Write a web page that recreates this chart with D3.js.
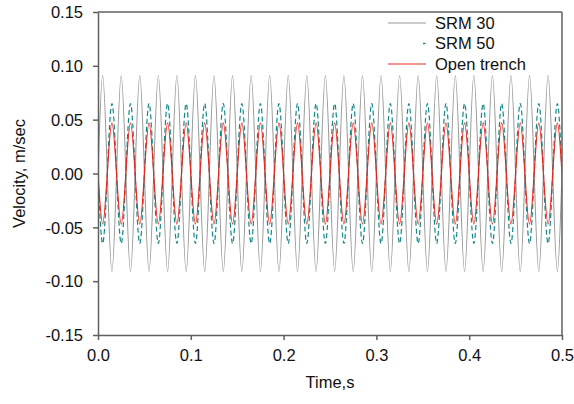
<!DOCTYPE html>
<html>
<head>
<meta charset="utf-8">
<script src="https://cdn.jsdelivr.net/npm/d3@7"></script>
<style>
  body { margin: 0; background: #fff; }
  svg { font-family: Arial, "Liberation Sans", sans-serif; }
  .axis path, .axis line { stroke: #606060; stroke-width: 1.5; }
  .axis text { font-size: 16.5px; fill: #111; }
</style>
</head>
<body>
<svg width="574" height="404"></svg>
<script>
// sample times (s) - extremes and zero crossings of each half cycle
const time = [
  0, 0.005, 0.01, 0.015, 0.02, 0.025, 0.03, 0.035, 0.04, 0.045,
  0.05, 0.055, 0.06, 0.065, 0.07, 0.075, 0.08, 0.085, 0.09, 0.095,
  0.1, 0.105, 0.11, 0.115, 0.12, 0.125, 0.13, 0.135, 0.14, 0.145,
  0.15, 0.155, 0.16, 0.165, 0.17, 0.175, 0.18, 0.185, 0.19, 0.195,
  0.2, 0.205, 0.21, 0.215, 0.22, 0.225, 0.23, 0.235, 0.24, 0.245,
  0.25, 0.255, 0.26, 0.265, 0.27, 0.275, 0.28, 0.285, 0.29, 0.295,
  0.3, 0.305, 0.31, 0.315, 0.32, 0.325, 0.33, 0.335, 0.34, 0.345,
  0.35, 0.355, 0.36, 0.365, 0.37, 0.375, 0.38, 0.385, 0.39, 0.395,
  0.4, 0.405, 0.41, 0.415, 0.42, 0.425, 0.43, 0.435, 0.44, 0.445,
  0.45, 0.455, 0.46, 0.465, 0.47, 0.475, 0.48, 0.485, 0.49, 0.495,
  0.5
]

// velocity (m/sec) at the sample times
const srm30 = [
  0, 0.091, 0, -0.091, 0, 0.091, 0, -0.091, 0, 0.091, 0, -0.091, 0, 0.091, 0, -0.091, 0, 0.091, 0, -0.091,
  0, 0.091, 0, -0.091, 0, 0.091, 0, -0.091, 0, 0.091, 0, -0.091, 0, 0.091, 0, -0.091, 0, 0.091, 0, -0.091,
  0, 0.091, 0, -0.091, 0, 0.091, 0, -0.091, 0, 0.091, 0, -0.091, 0, 0.091, 0, -0.091, 0, 0.091, 0, -0.091,
  0, 0.091, 0, -0.091, 0, 0.091, 0, -0.091, 0, 0.091, 0, -0.091, 0, 0.091, 0, -0.091, 0, 0.091, 0, -0.091,
  0, 0.091, 0, -0.091, 0, 0.091, 0, -0.091, 0, 0.091, 0, -0.091, 0, 0.091, 0, -0.091, 0, 0.091, 0, -0.091,
  0
]

const srm50 = [
  0, -0.065, 0, 0.065, 0, -0.065, 0, 0.065, 0, -0.065, 0, 0.065, 0, -0.065, 0, 0.065, 0, -0.065, 0, 0.065,
  0, -0.065, 0, 0.065, 0, -0.065, 0, 0.065, 0, -0.065, 0, 0.065, 0, -0.065, 0, 0.065, 0, -0.065, 0, 0.065,
  0, -0.065, 0, 0.065, 0, -0.065, 0, 0.065, 0, -0.065, 0, 0.065, 0, -0.065, 0, 0.065, 0, -0.065, 0, 0.065,
  0, -0.065, 0, 0.065, 0, -0.065, 0, 0.065, 0, -0.065, 0, 0.065, 0, -0.065, 0, 0.065, 0, -0.065, 0, 0.065,
  0, -0.065, 0, 0.065, 0, -0.065, 0, 0.065, 0, -0.065, 0, 0.065, 0, -0.065, 0, 0.065, 0, -0.065, 0, 0.065,
  0
]

const openTrench = [
  0, -0.047, 0, 0.047, 0, -0.047, 0, 0.047, 0, -0.047, 0, 0.047, 0, -0.047, 0, 0.047, 0, -0.047, 0, 0.047,
  0, -0.047, 0, 0.047, 0, -0.047, 0, 0.047, 0, -0.047, 0, 0.047, 0, -0.047, 0, 0.047, 0, -0.047, 0, 0.047,
  0, -0.047, 0, 0.047, 0, -0.047, 0, 0.047, 0, -0.047, 0, 0.047, 0, -0.047, 0, 0.047, 0, -0.047, 0, 0.047,
  0, -0.047, 0, 0.047, 0, -0.047, 0, 0.047, 0, -0.047, 0, 0.047, 0, -0.047, 0, 0.047, 0, -0.047, 0, 0.047,
  0, -0.047, 0, 0.047, 0, -0.047, 0, 0.047, 0, -0.047, 0, 0.047, 0, -0.047, 0, 0.047, 0, -0.047, 0, 0.047,
  0
]

const seriesNames = ["SRM 30", "SRM 50", "Open trench"]

const xTicks = [0, 0.1, 0.2, 0.3, 0.4, 0.5]
const xTickLabels = ["0.0", "0.1", "0.2", "0.3", "0.4", "0.5"]
const yTicks = [-0.15, -0.10, -0.05, 0, 0.05, 0.10, 0.15]
const yTickLabels = ["-0.15", "-0.10", "-0.05", "0.00", "0.05", "0.10", "0.15"]

const margin = {top: 12, right: 12, bottom: 69, left: 98}
const svg = d3.select("svg")
const width = +svg.attr("width") - margin.left - margin.right
const height = +svg.attr("height") - margin.top - margin.bottom

const g = svg.append("g")
  .attr("transform", "translate(" + margin.left + "," + margin.top + ")")

const xScale = d3.scaleLinear().domain([0, 0.5]).range([0, width])
const yScale = d3.scaleLinear().domain([-0.15, 0.15]).range([height, 0])

g.append("defs").append("clipPath").attr("id", "plot-clip")
  .append("rect").attr("width", width).attr("height", height)

const styles = [
  {data: srm30, color: "#9a9a9a", dash: null, width: 1.1},
  {data: srm50, color: "#12898a", dash: "5,3", width: 1.2},
  {data: openTrench, color: "#e8281e", dash: null, width: 1.2}
]

const line = d3.line()
  .x((d, i) => xScale(time[i]))
  .y(d => yScale(d))
  .curve(d3.curveNatural)

const lines = g.append("g").attr("clip-path", "url(#plot-clip)")
styles.forEach(s => {
  lines.append("path")
    .datum(s.data)
    .attr("fill", "none")
    .attr("stroke", s.color)
    .attr("stroke-width", s.width)
    .attr("stroke-dasharray", s.dash)
    .attr("d", line)
})

// axes
g.append("g")
  .attr("class", "axis")
  .attr("transform", "translate(0," + height + ")")
  .call(d3.axisBottom(xScale)
    .tickValues(xTicks)
    .tickFormat((d, i) => xTickLabels[i])
    .tickSizeInner(5).tickSizeOuter(0).tickPadding(9))

g.append("g")
  .attr("class", "axis")
  .call(d3.axisLeft(yScale)
    .tickValues(yTicks)
    .tickFormat((d, i) => yTickLabels[i])
    .tickSizeInner(5).tickSizeOuter(0).tickPadding(10))
  .selectAll("text").attr("dy", "0.35em")

// top and right frame
g.append("line").attr("x1", 0).attr("x2", width).attr("y1", 0).attr("y2", 0)
  .attr("stroke", "#606060").attr("stroke-width", 1.5)
g.append("line").attr("x1", width).attr("x2", width).attr("y1", 0).attr("y2", height)
  .attr("stroke", "#606060").attr("stroke-width", 1.5)

// axis titles
svg.append("text")
  .attr("x", margin.left + width / 2)
  .attr("y", 388)
  .attr("text-anchor", "middle")
  .attr("font-size", 16.5)
  .attr("fill", "#111")
  .text("Time,s")

svg.append("text")
  .attr("transform", "translate(25," + (margin.top + height / 2) + ") rotate(-90)")
  .attr("text-anchor", "middle")
  .attr("font-size", 16.5)
  .attr("fill", "#111")
  .text("Velocity, m/sec")

// legend
const legend = svg.append("g").attr("transform", "translate(388,23)")
seriesNames.forEach((name, i) => {
  const row = legend.append("g").attr("transform", "translate(0," + (i * 20.5) + ")")
  if (i === 1) {
    row.append("line").attr("x1", 35).attr("x2", 37.5).attr("y1", 0).attr("y2", 0)
      .attr("stroke", styles[i].color).attr("stroke-width", 1.4)
  } else {
    row.append("line").attr("x1", 0).attr("x2", 38).attr("y1", 0).attr("y2", 0)
      .attr("stroke", styles[i].color).attr("stroke-width", styles[i].width)
  }
  row.append("text")
    .attr("x", 47)
    .attr("dy", "0.35em")
    .attr("font-size", 16.5)
    .attr("fill", "#111")
    .text(name)
})
</script>
</body>
</html>
